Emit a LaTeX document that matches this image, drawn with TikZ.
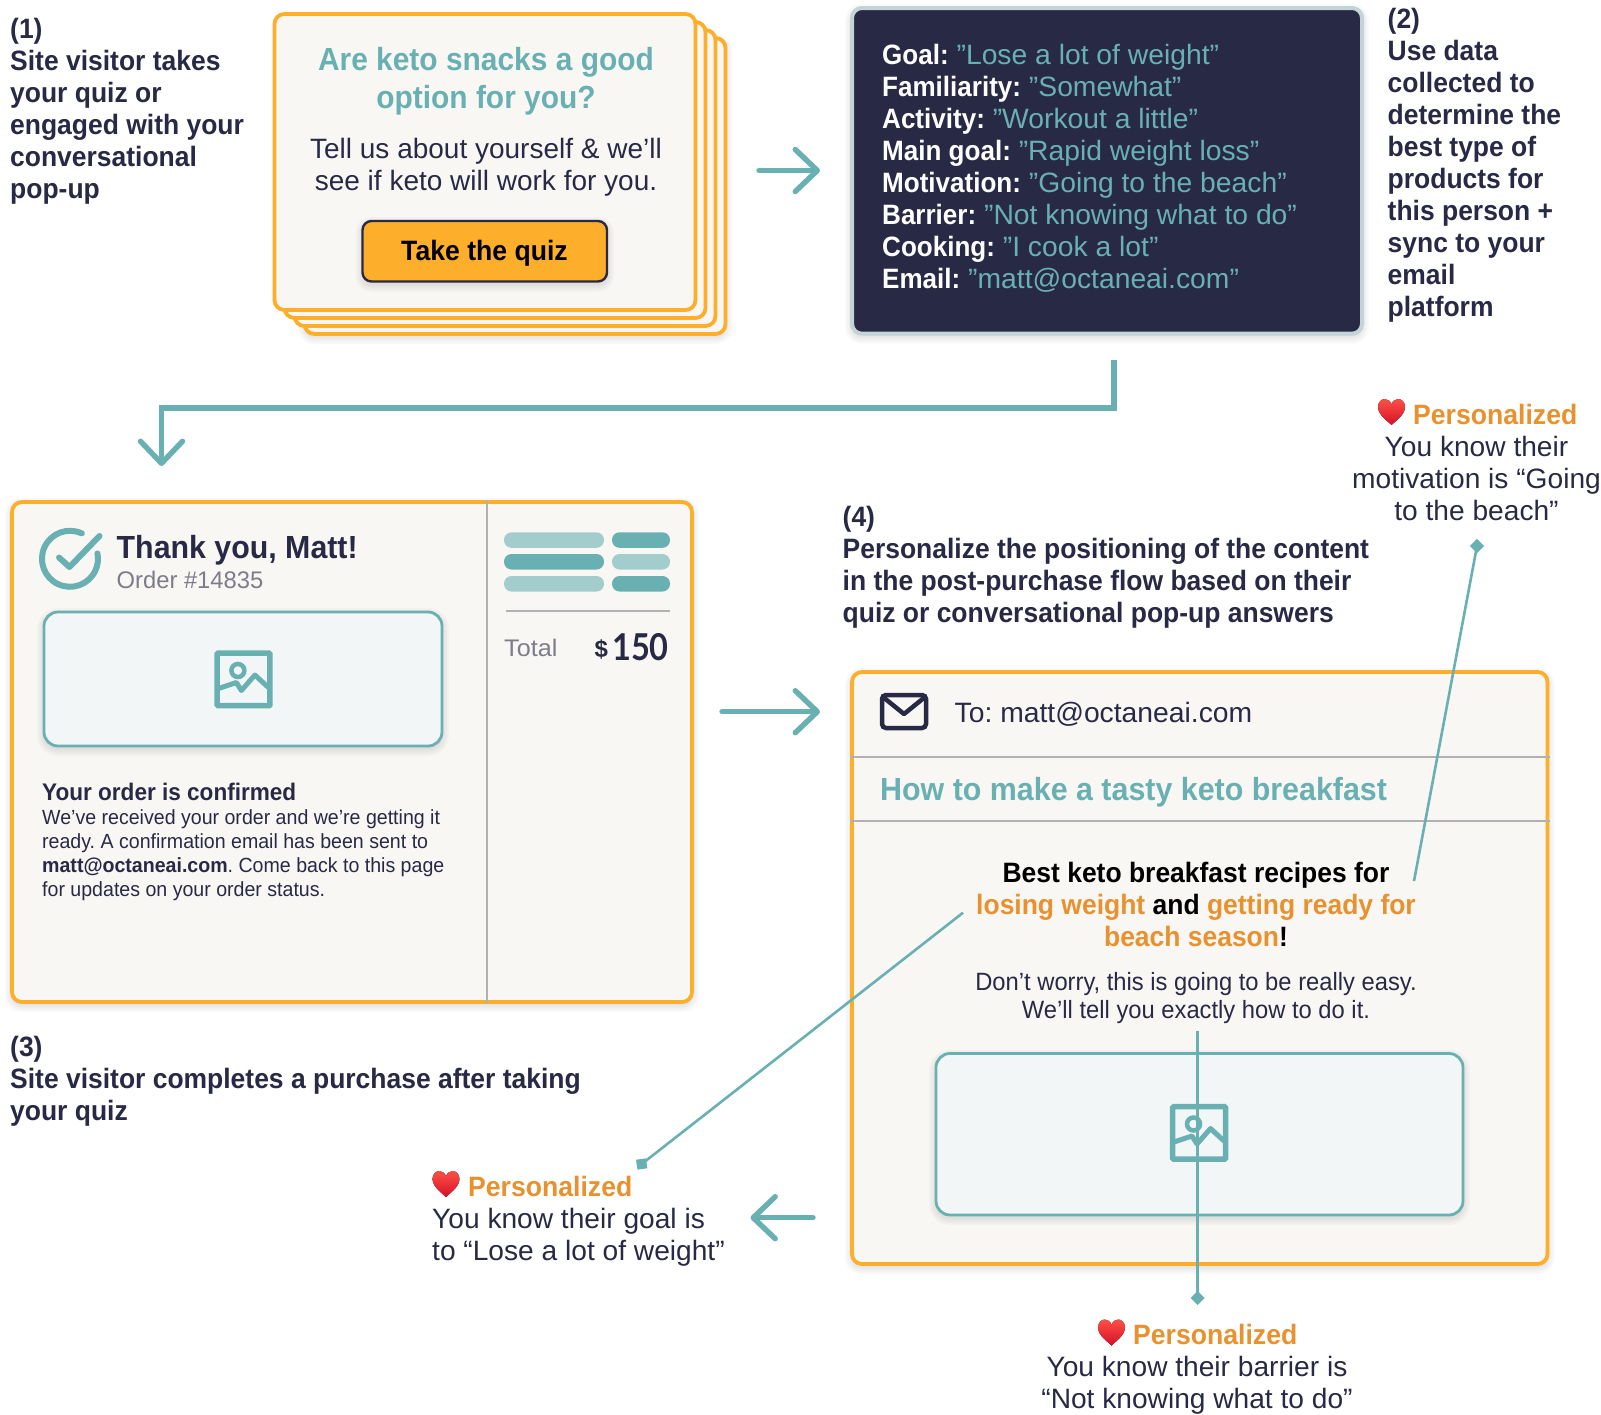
\documentclass[tikz,border=0pt]{standalone}
\usepackage{fontspec}
\setmainfont{Liberation Sans}
\newfontfamily\numfont[FakeStretch=.88]{Lato}
\newfontfamily\dlabel[FakeStretch=.93]{Liberation Sans}
\newfontfamily\dvalue[FakeStretch=1.01]{Liberation Sans}
\newcommand{\st}[1]{\addfontfeatures{FakeStretch=#1}}
\usetikzlibrary{arrows.meta}
\definecolor{boxorange}{HTML}{FDAE2B}
\definecolor{tealc}{HTML}{69B0B3}
\definecolor{teall}{HTML}{A3CCCC}
\definecolor{navy}{HTML}{282945}
\definecolor{cardfill}{HTML}{F9F7F4}
\definecolor{txtorange}{HTML}{E8912E}
\definecolor{ruleg}{HTML}{B3B0B3}
\definecolor{greytxt}{HTML}{7D7C8A}
\definecolor{imgfill}{HTML}{F2F6F6}
\definecolor{darkedge}{HTML}{C3D3D6}
\definecolor{hearttop}{HTML}{FF4F45}
\definecolor{heartbot}{HTML}{D3122A}
\newcommand{\softshade}[5]{%
  \foreach \e in {1,3,5,7}{\fill[black,opacity=.022,rounded corners={(#5+\e)*1pt}]
    ({#1-\e},{#2+3-\e}) rectangle ({#3+\e},{#4+3+\e});}}
\tikzset{
  stepfont/.style={font=\fontsize{28}{32}\selectfont\st{.945}\bfseries,text=navy,align=left,inner sep=0pt,anchor=base west},
  bodyfont/.style={font=\fontsize{28}{32}\selectfont\st{1.005},text=navy,align=center,inner sep=0pt,anchor=base},
  persfont/.style={font=\fontsize{28}{28}\selectfont\st{.95}\bfseries,text=txtorange,inner sep=0pt,anchor=base west},
  cardbox/.style={draw=boxorange,fill=cardfill,line width=3.8pt,rounded corners=10pt,anchor=north west,inner sep=0pt,outer sep=0pt},
  imgbox/.style={draw=tealc,fill=imgfill,line width=2.8pt,rounded corners=14pt,anchor=north west,inner sep=0pt,outer sep=0pt},
  flow/.style={draw=tealc,line width=5.4pt,line cap=round,-{Straight Barb[length=22pt,width=42pt,round]}},
  pointer/.style={draw=tealc,line width=2.6pt},
  endmark/.style={fill=tealc,minimum size=10pt,inner sep=0pt,outer sep=0pt},
  pill/.style={rounded corners=7.5pt},
  rulel/.style={draw=ruleg,line width=2pt},
  heartpic/.pic={\fill[top color=hearttop,bottom color=heartbot,draw=none]
    (0,13) .. controls (-2,10.5) and (-13.5,3.5) .. (-13.5,-5)
    .. controls (-13.5,-10) and (-10,-13) .. (-6.8,-13)
    .. controls (-3.5,-13) and (-1,-11) .. (0,-7.5)
    .. controls (1,-11) and (3.5,-13) .. (6.8,-13)
    .. controls (10,-13) and (13.5,-10) .. (13.5,-5)
    .. controls (13.5,3.5) and (2,10.5) .. (0,13) -- cycle;},
  imgicon/.pic={
    \draw[tealc,line width=5.5pt,rounded corners=1pt] (2.7,2.7) rectangle (55.5,55.2);
    \draw[tealc,line width=4.5pt] (23.5,20) circle (6.5);
    \draw[tealc,line width=5pt,line join=round] (4,38) -- (22,32) -- (27,40) -- (40.5,24.5) -- (54,37);}
}
\begin{document}
\frenchspacing
\begin{tikzpicture}[x=1pt,y=-1pt]
\useasboundingbox[fill=white] (0,0) rectangle (1601,1414);
% step 1
\node[stepfont] (s1) at (10,198) {(1)\\Site visitor takes\\your quiz or\\engaged with your\\conversational\\pop-up};
% stacked quiz cards
\softshade{304.5}{38}{725.5}{334}{10}
\node[cardbox,minimum width=421pt,minimum height=296pt] (card3) at (304.5,38) {};
\node[cardbox,minimum width=421pt,minimum height=296pt] (card2) at (294.5,30) {};
\node[cardbox,minimum width=421pt,minimum height=296pt] (card1) at (284.5,22) {};
\node[cardbox,minimum width=421pt,minimum height=296pt] (card0) at (274.5,14) {};
\node[font=\fontsize{32}{38}\selectfont\st{.935}\bfseries,text=tealc,align=center,inner sep=0pt,anchor=base] (q1) at (486,108) {Are keto snacks a good\\option for you?};
\node[font=\fontsize{28}{32}\selectfont\st{1.0},text=navy,align=center,inner sep=0pt,anchor=base] (q2) at (486,190) {Tell us about yourself \& we’ll\\see if keto will work for you.};
\softshade{362.5}{221}{607}{281.5}{9}
\node[draw=navy,fill=boxorange,line width=2.4pt,rounded corners=9pt,minimum width=244.5pt,minimum height=60.5pt,inner sep=0pt,outer sep=0pt,anchor=north west] (btn) at (362.5,221) {};
\node[font=\fontsize{28}{32}\selectfont\st{.95}\bfseries,text=black,inner sep=0pt,anchor=base] (btnt) at (484.5,260) {Take the quiz};
% arrow 1
\coordinate (a1s) at (759,170.5);
\coordinate (a1e) at (820,170.5);
\draw[flow] (a1s) -- (a1e);
% dark data box
\softshade{852}{8}{1362}{333.7}{10}
\node[draw=darkedge,fill=navy,line width=4pt,rounded corners=10pt,minimum width=510pt,minimum height=325.7pt,inner sep=0pt,outer sep=0pt,anchor=north west] (data) at (852,8) {};
\node[font=\fontsize{28}{32}\dvalue\selectfont,text=tealc,align=left,inner sep=0pt,anchor=base west] (datat) at (882,288) {%
\textcolor{white}{\dlabel\bfseries Goal:} ”Lose a lot of weight”\\
\textcolor{white}{\dlabel\bfseries Familiarity:} ”Somewhat”\\
\textcolor{white}{\dlabel\bfseries Activity:} ”Workout a little”\\
\textcolor{white}{\dlabel\bfseries Main goal:} ”Rapid weight loss”\\
\textcolor{white}{\dlabel\bfseries Motivation:} ”Going to the beach”\\
\textcolor{white}{\dlabel\bfseries Barrier:} ”Not knowing what to do”\\
\textcolor{white}{\dlabel\bfseries Cooking:} ”I cook a lot”\\
\textcolor{white}{\dlabel\bfseries Email:} ”matt@octaneai.com”};
% step 2
\node[stepfont] (s2) at (1387.5,316.5) {(2)\\Use data\\collected to\\determine the\\best type of\\products for\\this person +\\sync to your\\email\\platform};
% elbow
\coordinate (e1) at (1114,360);
\coordinate (e2) at (161.5,408);
\coordinate (e3) at (161.5,466);
\draw[flow,line cap=butt] (e1) |- (e2) -- (e3);
% receipt
\softshade{12}{502}{692}{1002}{10}
\node[cardbox,minimum width=680pt,minimum height=500pt] (receipt) at (12,502) {};
\draw[rulel] (487,500) -- (487,1004);
\draw[tealc,line width=6pt,line cap=round] (81.8,533.4) arc[start angle=-65,end angle=-371,radius=28];
\draw[tealc,line width=6pt,line cap=round,line join=round] (59,557.5) -- (69.5,567) -- (99.5,536);
\node[font=\fontsize{32}{32}\selectfont\st{.948}\bfseries,text=navy,inner sep=0pt,anchor=base west] (ty) at (116.5,558) {Thank you, Matt!};
\node[font=\fontsize{24}{24}\selectfont\st{.99},text=greytxt,inner sep=0pt,anchor=base west] (ord) at (116.5,588.5) {Order \#14835};
\softshade{44}{612}{442}{746}{14}
\node[imgbox,minimum width=398pt,minimum height=134pt] (img1) at (44,612) {};
\pic at (214.4,650.5) {imgicon};
\node[font=\fontsize{24}{24}\selectfont\st{.94}\bfseries,text=navy,inner sep=0pt,anchor=base west] (conf) at (42,800.5) {Your order is confirmed};
\node[font=\fontsize{20.5}{24}\selectfont\st{.955},text=navy,align=left,inner sep=0pt,anchor=base west] (confb) at (42,896.7) {We’ve received your order and we’re getting it\\ready. A confirmation email has been sent to\\\textbf{matt@octaneai.com}. Come back to this page\\for updates on your order status.};
\fill[teall,pill] (504,532.3) rectangle (604,547.8);
\fill[tealc,pill] (612,532.3) rectangle (670,547.8);
\fill[tealc,pill] (504,554) rectangle (604,569.5);
\fill[teall,pill] (612,554) rectangle (670,569.5);
\fill[teall,pill] (504,576) rectangle (604,591.5);
\fill[tealc,pill] (612,576) rectangle (670,591.5);
\draw[rulel] (506,611) -- (670,611);
\node[font=\fontsize{24}{24}\selectfont\st{1.05},text=greytxt,inner sep=0pt,anchor=base west] (tot) at (504,656) {Total};
\node[font=\fontsize{24}{24}\selectfont\bfseries,text=navy,inner sep=0pt,anchor=base west] (dol) at (594.5,657) {\$};
\node[font=\fontsize{37}{37}\numfont\bfseries,text=navy,inner sep=0pt,anchor=base east] (amt) at (669,660) {150};
% arrow 2
\coordinate (a2s) at (722,711.7);
\coordinate (a2e) at (820,711.7);
\draw[flow] (a2s) -- (a2e);
% step 3
\node[stepfont] (s3) at (10,1120) {(3)\\Site visitor completes a purchase after taking\\your quiz};
% step 4
\node[stepfont] (s4) at (842.5,622) {(4)\\Personalize the positioning of the content\\in the post-purchase flow based on their\\quiz or conversational pop-up answers};
% email
\softshade{852}{672}{1547.5}{1264}{10}
\node[cardbox,minimum width=695.5pt,minimum height=592pt] (email) at (852,672) {};
\draw[navy,line width=4.5pt,rounded corners=4pt] (882,695) rectangle (926,728);
\draw[navy,line width=4.5pt,line join=round] (883,697) -- (904,714) -- (925,697);
\node[font=\fontsize{28}{28}\selectfont\st{1.01},text=navy,inner sep=0pt,anchor=base west] (to) at (954.5,722) {To: matt@octaneai.com};
\draw[rulel] (850,757) -- (1549.5,757);
\node[font=\fontsize{32}{32}\selectfont\st{.95}\bfseries,text=tealc,inner sep=0pt,anchor=base west] (subj) at (880,800) {How to make a tasty keto breakfast};
\draw[rulel] (850,821) -- (1549.5,821);
\node[font=\fontsize{28}{32}\selectfont\st{.945}\bfseries,text=black,align=center,inner sep=0pt,anchor=base] (best) at (1196,946) {Best keto breakfast recipes for\\\textcolor{txtorange}{losing weight} and \textcolor{txtorange}{getting ready for}\\\textcolor{txtorange}{beach season}!};
\node[font=\fontsize{25}{28}\selectfont\st{.95},text=navy,align=center,inner sep=0pt,anchor=base] (dont) at (1196,1018) {Don’t worry, this is going to be really easy.\\We’ll tell you exactly how to do it.};
\softshade{936}{1053.5}{1463}{1215}{14}
\node[imgbox,minimum width=527pt,minimum height=161.5pt] (img2) at (936,1053.5) {};
\pic at (1170,1104) {imgicon};
% arrow back
\coordinate (a3s) at (813,1217.7);
\coordinate (a3e) at (750.5,1217.7);
\draw[flow] (a3s) -- (a3e);
% pointers
\node[endmark,rotate=45] (d1) at (1477,546) {};
\coordinate (p1) at (1414,881);
\draw[pointer] (p1) -- (d1.center);
\node[endmark,rotate=8] (d2) at (641.7,1164) {};
\coordinate (p2) at (963,912.7);
\draw[pointer] (p2) -- (d2.center);
\node[endmark,rotate=45] (d3) at (1197.6,1298) {};
\coordinate (p3) at (1197.6,1031);
\draw[pointer] (p3) -- (d3.center);
% personalized notes
\pic at (1391.5,412) {heartpic};
\node[persfont] (h1) at (1413,424) {Personalized};
\node[bodyfont] (n1) at (1476.5,520) {You know their\\motivation is “Going\\to the beach”};
\pic at (446,1184) {heartpic};
\node[persfont] (h2) at (468,1196) {Personalized};
\node[bodyfont,align=left,anchor=base west] (n2) at (432,1260) {You know their goal is\\to “Lose a lot of weight”};
\pic at (1111.5,1332.5) {heartpic};
\node[persfont] (h3) at (1133,1344) {Personalized};
\node[bodyfont] (n3) at (1197,1408) {You know their barrier is\\“Not knowing what to do”};
\end{tikzpicture}
\end{document}
